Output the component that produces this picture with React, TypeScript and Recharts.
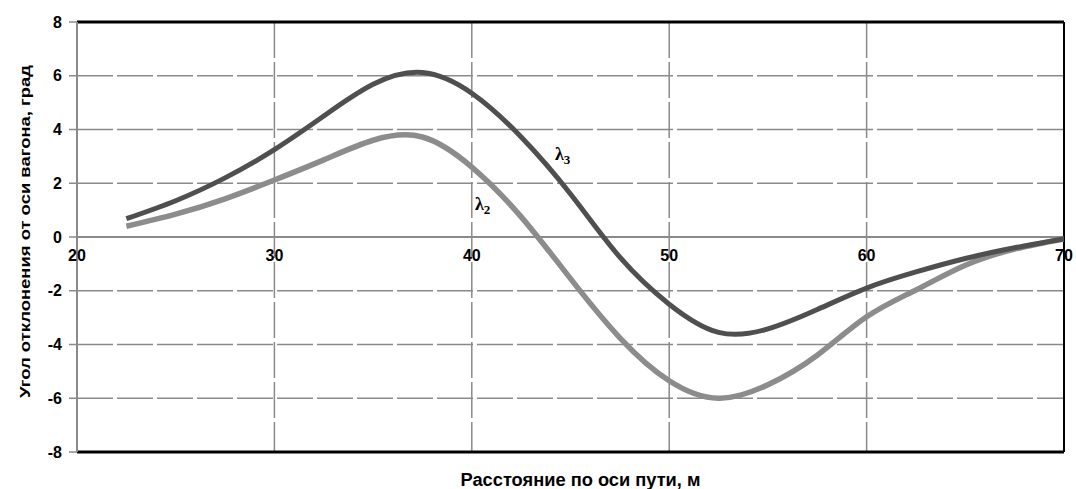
import React from "react";
import { LineChart, Line, XAxis, YAxis, CartesianGrid, ReferenceLine, ReferenceDot, Label } from "recharts";

if (typeof document !== "undefined") {
  document.body.style.margin = "0";
}

const xTicks = [20, 30, 40, 50, 60, 70];
const yTicks = [-8, -6, -4, -2, 0, 2, 4, 6, 8];

const distances = [22.5, 25, 27.5, 30, 32.5, 35, 37.5, 40, 42.5, 45, 47.5, 50, 52.5, 55, 57.5, 60, 62.5, 65, 67.5, 70];
const lambda3 = [0.68, 1.35, 2.2, 3.25, 4.5, 5.68, 6.12, 5.35, 3.72, 1.6, -0.75, -2.5, -3.55, -3.42, -2.7, -1.9, -1.3, -0.8, -0.4, -0.07];
const lambda2 = [0.4, 0.85, 1.42, 2.12, 2.87, 3.6, 3.72, 2.6, 0.75, -1.55, -3.75, -5.35, -6.0, -5.5, -4.4, -2.97, -1.97, -1.05, -0.45, -0.07];

const data = distances.map((x, i) => ({ x, l3: lambda3[i], l2: lambda2[i] }));

const seriesLabels = [
  { name: "λ", sub: "3", x: 44.72, y: 3.01 },
  { name: "λ", sub: "2", x: 40.67, y: 1.15 },
];

const xTitle = "Расстояние по оси пути, м";
const yTitle = "Угол отклонения от оси вагона, град";

const tickFont = { fontFamily: "Liberation Sans, Arial, sans-serif", fontWeight: 700, fontSize: 16, fill: "#000" };

export default function App() {
  return (
    <LineChart width={1076} height={489} data={data} margin={{ top: 22, right: 12, bottom: 0, left: 0 }}>
      <CartesianGrid stroke="#8a8a8a" strokeWidth={1.5} strokeDasharray="36 4" />
      <XAxis
        type="number"
        dataKey="x"
        domain={[20, 70]}
        ticks={xTicks}
        height={37}
        tick={() => <g />}
        tickLine={false}
        axisLine={false}
        interval={0}
        allowDataOverflow
      >
        <Label
          content={(props: any) => {
            const vb = props.viewBox || { x: 77, y: 452, width: 987 };
            return (
              <text
                x={vb.x + vb.width / 2 + 10}
                y={vb.y + 34}
                textAnchor="middle"
                textLength={240}
                lengthAdjust="spacingAndGlyphs"
                style={{ fontFamily: "Liberation Sans, Arial, sans-serif", fontWeight: 700, fontSize: 18, fill: "#000" }}
              >
                {xTitle}
              </text>
            );
          }}
        />
      </XAxis>
      <YAxis
        type="number"
        domain={[-8, 8]}
        ticks={yTicks}
        width={77}
        tick={tickFont}
        tickSize={8}
        tickMargin={7}
        tickLine={{ stroke: "#8a8a8a", strokeWidth: 1.5 }}
        axisLine={{ stroke: "#8a8a8a", strokeWidth: 2 }}
        interval={0}
        allowDataOverflow
      >
        <Label
          content={(props: any) => {
            const vb = props.viewBox || { x: 0, y: 22, width: 77, height: 430 };
            const cy = vb.y + vb.height / 2 - 5.5;
            return (
              <text
                x={25}
                y={cy}
                transform={`rotate(-90, 25, ${cy})`}
                textAnchor="middle"
                dominantBaseline="central"
                textLength={333}
                lengthAdjust="spacingAndGlyphs"
                style={{ fontFamily: "Liberation Sans, Arial, sans-serif", fontWeight: 700, fontSize: 14, fill: "#000" }}
              >
                {yTitle}
              </text>
            );
          }}
        />
      </YAxis>
      <ReferenceLine y={0} stroke="#8a8a8a" strokeWidth={2} />
      <ReferenceLine y={8} stroke="#000" strokeWidth={3} />
      <ReferenceLine y={-8} stroke="#000" strokeWidth={3} />
      <ReferenceLine x={70} stroke="#000" strokeWidth={2} />
      <Line dataKey="l2" type="natural" stroke="#8c8c8c" strokeWidth={5.5} dot={false} isAnimationActive={false} />
      <Line dataKey="l3" type="natural" stroke="#4f4f4f" strokeWidth={5} dot={false} isAnimationActive={false} />
      {xTicks.map((t) => (
        <ReferenceDot
          key={`xt-${t}`}
          x={t}
          y={0}
          r={1}
          fill="none"
          stroke="none"
          label={(props: any) => {
            const vb = props.viewBox;
            return (
              <text x={vb.x + vb.width / 2} y={vb.y + vb.height / 2 + 18.5} textAnchor="middle" dominantBaseline="central" style={tickFont}>
                {t}
              </text>
            );
          }}
        />
      ))}
      {seriesLabels.map((s) => (
        <ReferenceDot
          key={`sl-${s.sub}`}
          x={s.x}
          y={s.y}
          r={1}
          fill="none"
          stroke="none"
          label={(props: any) => {
            const vb = props.viewBox;
            const cx = vb.x + vb.width / 2;
            const cy = vb.y + vb.height / 2;
            return (
              <text x={cx - 10} y={cy + 4} style={{ fontFamily: "Liberation Serif, Times New Roman, serif", fontWeight: 700, fontSize: 18, fill: "#000" }}>
                {s.name}
                <tspan dy={4} style={{ fontSize: 13 }}>{s.sub}</tspan>
              </text>
            );
          }}
        />
      ))}
    </LineChart>
  );
}
